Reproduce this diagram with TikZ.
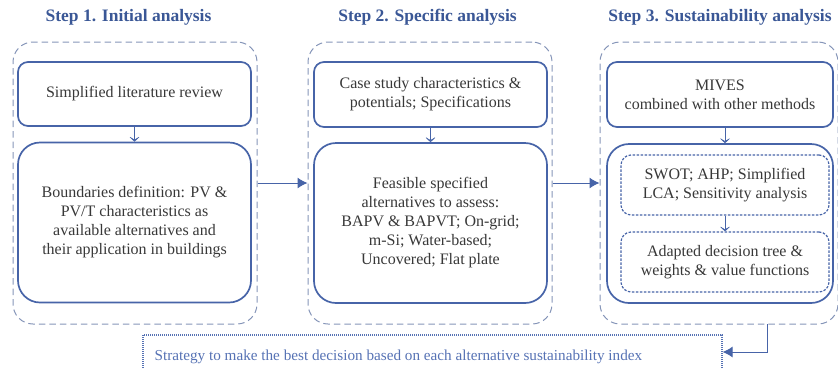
\documentclass[tikz,border=0pt]{standalone}
\usepackage{fontspec}
\setmainfont{Liberation Serif}
\usetikzlibrary{arrows.meta}

\definecolor{boxblue}{HTML}{4764A8}
\definecolor{dashgray}{HTML}{8595B8}
\definecolor{titleblue}{HTML}{3A5796}
\definecolor{textgray}{HTML}{383838}
\definecolor{stratblue}{HTML}{5672B4}

\tikzset{
  stagebox/.style={draw=dashgray, line width=1pt, dash pattern=on 6.5pt off 4pt,
    rounded corners=20pt, minimum width=#1, minimum height=282pt, inner sep=0pt},
  smallbox/.style={draw=boxblue, line width=1.7pt, rounded corners=10pt,
    text=textgray, align=center, inner sep=0pt, font=\fontsize{16}{19}\selectfont},
  bigbox/.style={smallbox, rounded corners=22pt},
  methodbox/.style={draw=boxblue, line width=1.2pt, dash pattern=on 2.5pt off 1.5pt,
    rounded corners=10pt, text=textgray, align=center, inner sep=0pt,
    minimum width=208pt, minimum height=60pt, font=\fontsize{16}{19}\selectfont},
  steptitle/.style={text=titleblue, font=\fontsize{17.5}{20}\selectfont\bfseries},
  flow/.style={draw=boxblue, line width=1pt, -{Latex[length=10pt,width=11pt]}},
  down/.style={draw=boxblue, line width=1pt, -{Stealth[length=6pt,width=13pt,inset=4pt]}},
}

\begin{document}
\begin{tikzpicture}[x=1pt, y=-1pt]
\useasboundingbox (0,0) rectangle (838,368);
\clip (0,0) rectangle (838,368);

% step titles
\node[steptitle] (t1) at (128.5,17) {Step 1. Initial analysis};
\node[steptitle] (t2) at (427.5,17) {Step 2. Specific analysis};
\node[steptitle] (t3) at (720,17) {Step 3. Sustainability analysis};

% stage frames
\node[stagebox=244pt] (s1) at (135,183) {};
\node[stagebox=244pt] (s2) at (430,183) {};
\node[stagebox=238pt] (s3) at (719,183) {};

% step 1
\node[smallbox, minimum width=233pt, minimum height=64pt] (a1) at (134.5,94)
  {Simplified literature review};
\node[bigbox, minimum width=233pt, minimum height=160pt] (a2) at (134.5,222.5)
  {Boundaries definition: PV \&\\PV/T characteristics as\\available alternatives and\\their application in buildings};

% step 2
\node[smallbox, minimum width=233pt, minimum height=65pt] (b1) at (430.5,94.5)
  {Case study characteristics \&\\potentials; Specifications};
\node[bigbox, minimum width=233pt, minimum height=160pt] (b2) at (430.5,223)
  {Feasible specified\\alternatives to assess:\\BAPV \& BAPVT; On-grid;\\m-Si; Water-based;\\Uncovered; Flat plate};

% step 3
\node[smallbox, minimum width=226pt, minimum height=65pt] (c1) at (720,94.5)
  {MIVES\\combined with other methods};
\node[bigbox, minimum width=226pt, minimum height=159pt] (c2) at (720,223.5) {};
\node[methodbox] (c3) at (725,185)
  {SWOT; AHP; Simplified\\LCA; Sensitivity analysis};
\node[methodbox] (c4) at (725,262)
  {Adapted decision tree \&\\weights \& value functions};

% final strategy box and its text
\node[draw=stratblue, line width=1.2pt, dash pattern=on 1pt off 1pt,
  minimum width=579pt, minimum height=44pt, inner sep=0pt] (st) at (432.5,357) {};
\node[anchor=west, inner sep=0pt, text=stratblue, font=\fontsize{15.2}{18}\selectfont]
  (stt) at ([xshift=12pt]st.west)
  {Strategy to make the best decision based on each alternative sustainability index};

% connectors
\draw[down] (a1) -- (a2);
\draw[down] (b1) -- (b2);
\draw[down] (c1.south -| c3) -- (c2.north -| c3);
\draw[down] (c3) -- (c4);
\draw[flow] (s1.east |- 0,183) -- (s2.west |- 0,183);
\draw[flow] (s2.east |- 0,183) -- (s3.west |- 0,183);
\coordinate (drop) at (767,324);
\draw[flow] (drop) |- ([yshift=5pt]st.east);
\end{tikzpicture}
\end{document}
